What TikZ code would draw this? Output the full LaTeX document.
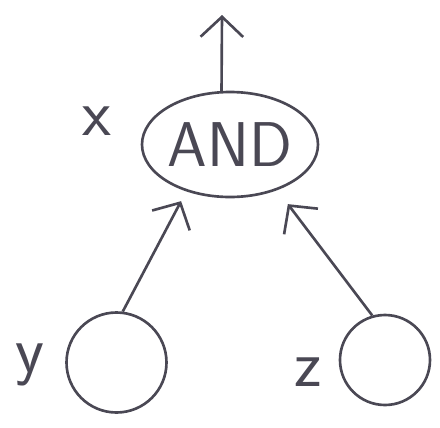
\documentclass[tikz,border=0pt]{standalone}
\usetikzlibrary{shapes.geometric,arrows.meta}
\definecolor{pen}{RGB}{74,72,84}
\begin{document}
\begin{tikzpicture}[line width=1.5pt, draw=pen, every node/.style={text=pen, font=\sffamily},
	gate/.style={ellipse, draw=pen, minimum width=3.52cm, minimum height=2.1cm, inner sep=-3pt, font=\fontsize{36}{36}\sffamily},
	leaf/.style={circle, draw=pen, inner sep=0pt},
	lbl/.style={font=\fontsize{38}{38}\sffamily},
	arr/.style={-{Straight Barb[length=4mm, width=8.5mm, line width=1.5pt]}, pen}]
	\useasboundingbox (0,0) rectangle (8.8,-8.54);
	\node[gate] (and) at (4.6,-2.89) {AND};
	\node[leaf, minimum size=2cm] (y) at (2.33,-7.25) {};
	\node[leaf, minimum size=1.8cm] (z) at (7.7,-7.2) {};
	\coordinate (out) at (4.44,-0.3);
	
	% Labels
	\node[lbl] (xlbl) at (1.94,-2.42) {x};
	\node[lbl] (ylbl) at (0.6,-7.3) {y};
	\node[lbl] (zlbl) at (6.16,-7.44) {z};
	
	% Arrows
	\draw[arr] (and.99) -- (out);
	\draw[arr, shorten >=0.22cm] (y.83) -- (and.227);
	\draw[arr, shorten >=0.35cm] (z.106) -- (and.316);
\end{tikzpicture}
\end{document}
